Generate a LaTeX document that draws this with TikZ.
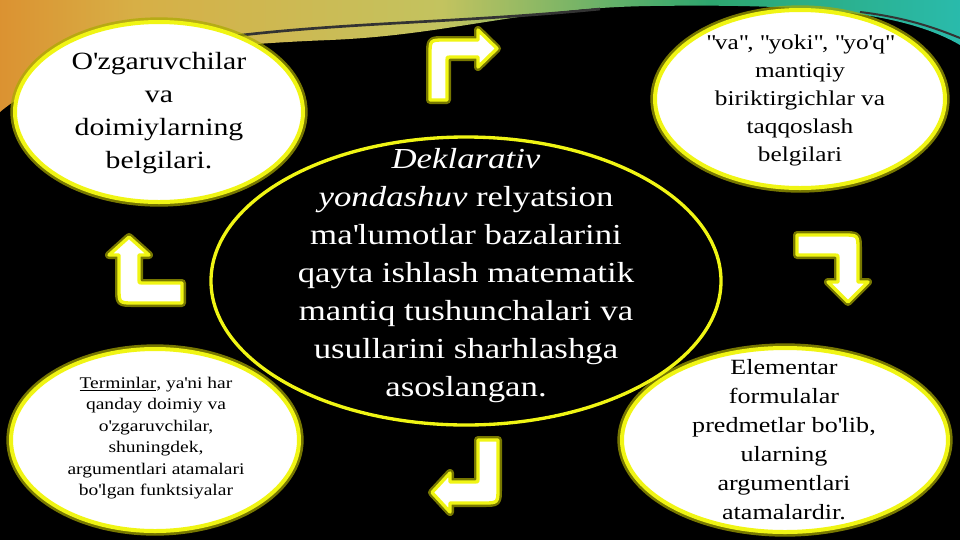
\documentclass[tikz,border=0pt]{standalone}
\usepackage{fontspec}
\setmainfont[FakeStretch=1.2]{Liberation Serif}
\definecolor{bandred}{RGB}{190,25,10}
\definecolor{bandorange}{RGB}{225,105,20}
\definecolor{bandgold}{RGB}{215,175,70}
\definecolor{bandolive}{RGB}{195,195,95}
\definecolor{bandgreen}{RGB}{45,165,110}
\definecolor{bandteal}{RGB}{40,195,195}
\definecolor{bandcyan}{RGB}{130,225,235}
\definecolor{ovalyellow}{RGB}{240,245,20}
\definecolor{ovalglow}{RGB}{170,170,0}
\pgfdeclarehorizontalshading{topband}{100bp}{color(0bp)=(bandred); color(6bp)=(bandred); color(15bp)=(bandorange); color(32bp)=(bandgold); color(48bp)=(bandolive); color(62bp)=(bandgreen); color(80bp)=(bandteal); color(100bp)=(bandcyan)}
\newcommand{\apo}{\textquotesingle}
\newcommand{\dq}{\textquotedbl}

\tikzset{every picture/.style={line width=0.75pt}}
\tikzset{
  whiteoval/.style={fill=white, draw=ovalyellow, line width=3, preaction={draw=ovalglow, draw opacity=0.7, line width=7}},
  blackoval/.style={fill=black, draw=ovalyellow, line width=2.5},
  bentarrow/.style={fill=white, draw=ovalyellow, line width=2.5, line join=round, preaction={draw=ovalglow, draw opacity=0.7, line width=6, line join=round}},
  ovaltext/.style={align=center, text=black, inner sep=0},
}

\begin{document}
\begin{tikzpicture}[x=0.75pt,y=0.75pt,yscale=-1,xscale=1]
	%Background
	\fill[black] (0,0) rectangle (960,540);
	\useasboundingbox (0,0) rectangle (960,540);

	%Top band
	\shade[shading=topband] (0,0) -- (960,0) -- (960,45) .. controls (900,10) and (800,4) .. (650,6) .. controls (520,8) and (450,35) .. (330,40) .. controls (200,45) and (60,60) .. (0,112) -- cycle;
	\draw[black!80, line width=2] (190,42) .. controls (320,22) and (450,24) .. (600,9);
	\draw[black!80, line width=1.5] (860,12) .. controls (910,18) and (940,30) .. (960,38);

	%Ellipse centres
	\coordinate (ovalTL) at (159,112);
	\coordinate (ovalTR) at (800,99);
	\coordinate (ovalBL) at (155,440);
	\coordinate (ovalBR) at (785,440);
	\coordinate (ovalMid) at (466,281);

	%Ellipses
	\draw[whiteoval] (ovalTL) ellipse [x radius=144, y radius=90];
	\draw[whiteoval] (ovalTR) ellipse [x radius=145, y radius=89];
	\draw[whiteoval] (ovalBL) ellipse [x radius=144, y radius=91];
	\draw[whiteoval] (ovalBR) ellipse [x radius=163, y radius=92];
	\draw[blackoval] (ovalMid) ellipse [x radius=255, y radius=144];

	%Bent Arrow (top)
	\draw[bentarrow] (430,100) -- (430,55) .. controls (430,40) .. (445,40) -- (478,40) -- (478,30) -- (497,48.5) -- (478,67) -- (478,57) -- (450,57) .. controls (447,57) .. (447,60) -- (447,100) -- cycle;
	%Bent Arrow (right)
	\draw[bentarrow] (797,235) -- (843,235) .. controls (858,235) .. (858,250) -- (858,282) -- (868,282) -- (848,302) -- (828,282) -- (838,282) -- (838,258) .. controls (838,255) .. (835,255) -- (797,255) -- cycle;
	%Bent Arrow (bottom)
	\draw[bentarrow] (478,440) -- (498,440) -- (498,488) .. controls (498,503) .. (483,503) -- (450,503) -- (450,512) -- (432,492.5) -- (450,473) -- (450,482) -- (475,482) .. controls (478,482) .. (478,479) -- cycle;
	%Bent Arrow (left)
	\draw[bentarrow] (182,283) -- (182,303) -- (134,303) .. controls (119,303) .. (119,288) -- (119,255) -- (109,255) -- (129,237) -- (149,255) -- (139,255) -- (139,280) .. controls (139,283) .. (142,283) -- cycle;

	% Text Node
	\node[ovaltext, font=\fontsize{18.6}{24.75}\selectfont] (txtTL) at (159,113) {O\apo zgaruvchilar\\va\\doimiylarning\\belgilari.};
	% Text Node
	\node[ovaltext, font=\fontsize{15.8}{21}\selectfont] (txtTR) at (800,100) {\dq va\dq, \dq yoki\dq, \dq yo\apo q\dq\\mantiqiy\\biriktirgichlar va\\taqqoslash\\belgilari};
	% Text Node
	\node[ovaltext, font=\fontsize{12.2}{16.1}\selectfont] (txtBL) at (156,438) {\underline{Terminlar}, ya\apo ni har\\qanday doimiy va\\o\apo zgaruvchilar,\\shuningdek,\\argumentlari atamalari\\bo\apo lgan funktsiyalar};
	% Text Node
	\node[ovaltext, font=\fontsize{16.3}{21.75}\selectfont] (txtBR) at (784,440) {Elementar\\formulalar\\predmetlar bo\apo lib,\\ularning\\argumentlari\\atamalardir.};
	% Text Node
	\node[ovaltext, text=white, font=\fontsize{21.75}{28.5}\selectfont] (txtMid) at (466,276) {\textit{Deklarativ}\\\textit{yondashuv} relyatsion\\ma\apo lumotlar bazalarini\\qayta ishlash matematik\\mantiq tushunchalari va\\usullarini sharhlashga\\asoslangan.};

\end{tikzpicture}
\end{document}
